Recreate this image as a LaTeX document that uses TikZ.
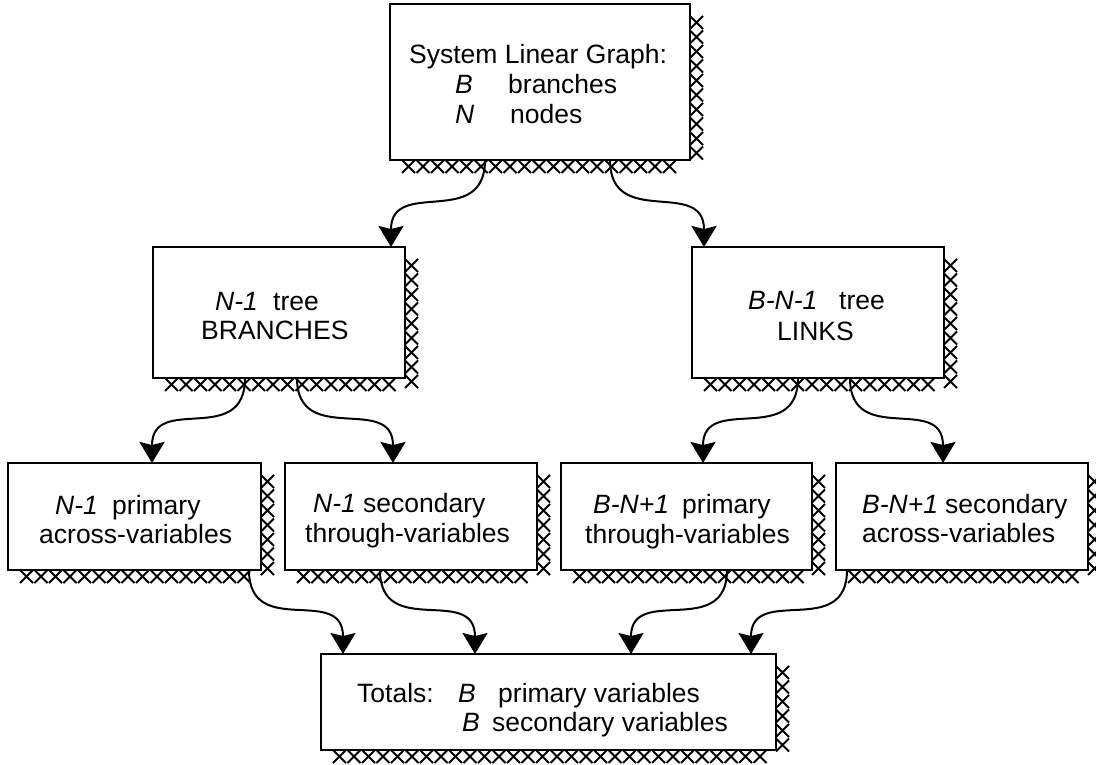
\documentclass[tikz,border=0pt]{standalone}
\usepackage{fontspec}
\setmainfont{Liberation Sans}
\usetikzlibrary{arrows.meta}
\tikzset{
  box/.style={draw, line width=2.5pt, fill=white, anchor=north west, inner sep=0pt, outer sep=0pt},
  xs/.style={line width=2pt, line cap=butt},
  lbl/.style={anchor=base west, inner sep=0pt, font=\fontsize{26.5pt}{30pt}\selectfont},
  arr/.style={line width=2pt, -{Stealth[length=21pt,width=25pt,inset=3pt]}},
}
\newcommand\xshadow[4]{%
  \pgfmathtruncatemacro\nb{(#3-#1-12)/14.5-1}%
  \foreach \i in {0,...,\nb}{\draw[xs] ({#1+12+\i*14.5},#4) -- ++(13,13) ++(-13,0) -- ++(13,-13);}%
  \pgfmathtruncatemacro\nr{(#4-#2)/14.5-1}%
  \foreach \i in {0,...,\nr}{\draw[xs] (#3,{#2+12+\i*14.5}) -- ++(13,13) ++(0,-13) -- ++(-13,13);}%
}
\newcommand\shbox[5]{% name, x, y, w, h
  \pgfmathsetmacro\xr{#2+#4}\pgfmathsetmacro\yb{#3+#5}%
  \xshadow{#2}{#3}{\xr}{\yb}%
  \node[box, minimum width=#4pt, minimum height=#5pt] (#1) at (#2,#3) {};%
}
\begin{document}
\begin{tikzpicture}[x=1pt,y=-1pt]
\useasboundingbox (0,0) rectangle (1096,765);
\shbox{top}{390}{4}{300}{156}
\shbox{midL}{153}{247}{252}{131}
\shbox{midR}{692}{247}{252}{131}
\shbox{bA}{8}{463}{253}{107}
\shbox{bB}{285}{463}{252}{107}
\shbox{bC}{561}{463}{251}{107}
\shbox{bD}{836}{463}{252}{107}
\shbox{tot}{321}{654}{455}{96}

% texts
\node[lbl] (t1) at (409,64) {System Linear Graph:};
\node[lbl] (t2) at (455,94) {\textit{B}};
\node[lbl] (t3) at (508,94) {branches};
\node[lbl] (t4) at (455,124) {\textit{N}};
\node[lbl] (t5) at (510,124) {nodes};

\node[lbl] (l1) at (215,310) {\textit{N-1}};
\node[lbl] (l2) at (273,310) {tree};
\node[lbl] (l3) at (201,339) {BRANCHES};

\node[lbl] (r1) at (748,309) {\textit{B-N-1}};
\node[lbl] (r2) at (839,309) {tree};
\node[lbl] (r3) at (777,340) {LINKS};

\node[lbl] (a1) at (55,514) {\textit{N-1}};
\node[lbl] (a2) at (112,514) {primary};
\node[lbl] (a3) at (39,543) {across-variables};

\node[lbl] (b1) at (313,512) {\textit{N-1}};
\node[lbl] (b2) at (363,512) {secondary};
\node[lbl] (b3) at (305,542) {through-variables};

\node[lbl] (c1) at (593,513) {\textit{B-N+1}};
\node[lbl] (c2) at (682,513) {primary};
\node[lbl] (c3) at (585,543) {through-variables};

\node[lbl] (d1) at (862,513) {\textit{B-N+1}};
\node[lbl] (d2) at (945,513) {secondary};
\node[lbl] (d3) at (862,542) {across-variables};

\node[lbl] (s1) at (357,702) {Totals:};
\node[lbl] (s2) at (458,702) {\textit{B}};
\node[lbl] (s3) at (498,702) {primary variables};
\node[lbl] (s4) at (462,731) {\textit{B}};
\node[lbl] (s5) at (492,731) {secondary variables};

% connectors
\draw[arr] ([xshift=95pt]top.south west) .. controls +(0,70) and +(0,-70) .. ([xshift=238pt]midL.north west);
\draw[arr] ([xshift=220pt]top.south west) .. controls +(0,70) and +(0,-70) .. ([xshift=12pt]midR.north west);
\draw[arr] ([xshift=92pt]midL.south west) .. controls +(0,70) and +(0,-70) .. ([xshift=144pt]bA.north west);
\draw[arr] ([xshift=144pt]midL.south west) .. controls +(0,70) and +(0,-70) .. ([xshift=108pt]bB.north west);
\draw[arr] ([xshift=106pt]midR.south west) .. controls +(0,70) and +(0,-70) .. ([xshift=142pt]bC.north west);
\draw[arr] ([xshift=158pt]midR.south west) .. controls +(0,70) and +(0,-70) .. ([xshift=107pt]bD.north west);
\draw[arr] ([xshift=241pt]bA.south west) .. controls +(0,70) and +(0,-70) .. ([xshift=22pt]tot.north west);
\draw[arr] ([xshift=95pt]bB.south west) .. controls +(0,70) and +(0,-70) .. ([xshift=154pt]tot.north west);
\draw[arr] ([xshift=166pt]bC.south west) .. controls +(0,70) and +(0,-70) .. ([xshift=310pt]tot.north west);
\draw[arr] ([xshift=11pt]bD.south west) .. controls +(0,70) and +(0,-70) .. ([xshift=430pt]tot.north west);
\end{tikzpicture}
\end{document}
